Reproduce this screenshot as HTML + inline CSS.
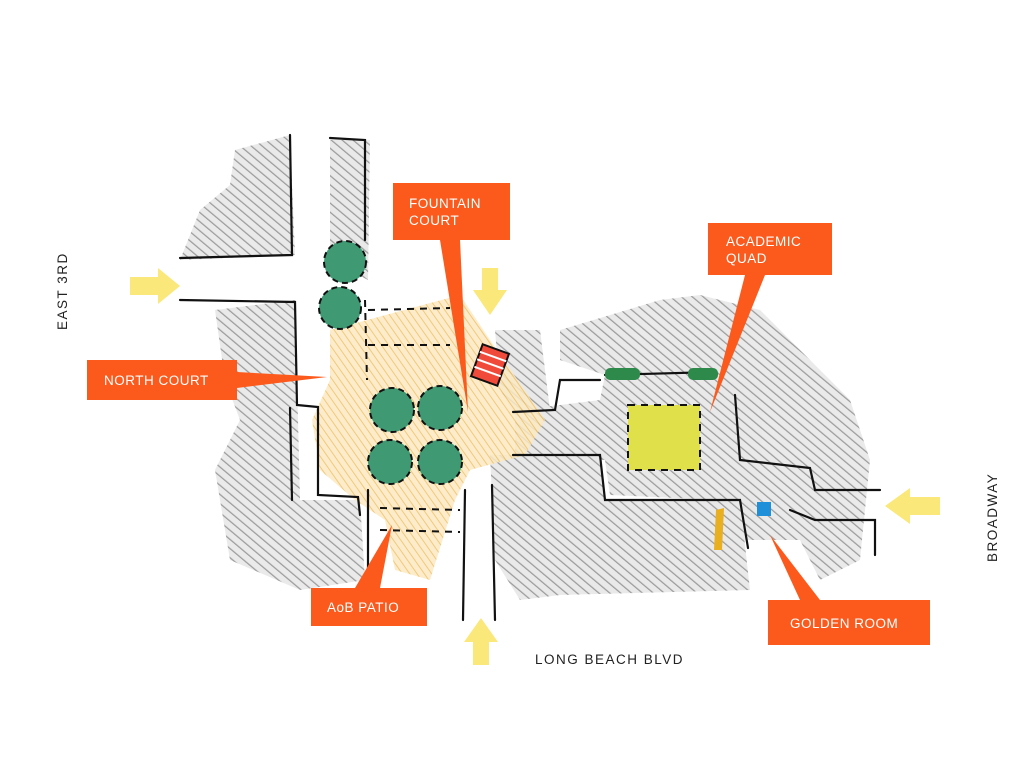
<!DOCTYPE html>
<html><head><meta charset="utf-8"><style>
html,body{margin:0;padding:0;background:#fff;width:1024px;height:778px;overflow:hidden}
svg{display:block}
text{font-family:"Liberation Sans",sans-serif}
</style></head><body>
<svg width="1024" height="778" viewBox="0 0 1024 778" xmlns="http://www.w3.org/2000/svg">
<defs>
<pattern id="hatch" width="7" height="7" patternUnits="userSpaceOnUse" patternTransform="rotate(-50)">
<rect width="7" height="7" fill="#e6e6e6"/><line x1="0" y1="0" x2="0" y2="7" stroke="#8a8a8a" stroke-width="2.5"/>
</pattern>
<pattern id="ylw" width="6" height="6" patternUnits="userSpaceOnUse" patternTransform="rotate(-35)">
<rect width="6" height="6" fill="#fbe9c2"/><line x1="0" y1="0" x2="0" y2="6" stroke="#f0c060" stroke-width="2"/>
</pattern>
</defs>
<!-- gray hatched building masses -->
<g fill="url(#hatch)" opacity="0.85">
<path d="M235 150 L290 135 L295 255 L180 260 L200 210 L230 185Z"/>
<path d="M330 140 L370 140 L368 280 L330 260Z"/>
<path d="M215 310 L295 300 L300 500 L360 500 L365 580 L300 590 L230 560 L215 470 L240 420 L225 380Z"/>
<path d="M490 455 L600 455 L605 500 L740 500 L750 590 L560 595 L520 600 L495 560Z"/>
<path d="M560 330 L660 300 L700 295 L760 310 L850 400 L870 460 L860 560 L820 580 L800 540 L740 540 L720 500 L610 495 L605 460 L515 455 L515 410 L560 405 L600 400 L605 375 L560 360Z"/>
<path d="M495 330 L540 330 L550 410 L515 415 L500 390Z"/>
</g>
<!-- yellow courtyard -->
<path d="M330 330 L460 295 L490 340 L545 420 L525 455 L470 470 L455 500 L430 580 L395 570 L385 520 L355 500 L320 470 L312 420 L330 380Z" fill="url(#ylw)" opacity="0.85"/>
<!-- quad -->
<rect x="628" y="405" width="72" height="65" fill="#dfe04a"/>
<!-- walls -->
<g fill="none" stroke="#111" stroke-width="2.2" stroke-linecap="round">
<path d="M290 135 L292 255 L180 258"/>
<path d="M330 138 L365 140 L365 240"/>
<path d="M180 300 L295 302 L297 405 L318 407 L318 495 L358 497 L360 515"/>
<path d="M290 408 L292 500"/>
<path d="M368 490 L368 590"/>
<path d="M465 490 L463 620"/>
<path d="M492 485 L495 620"/>
<path d="M513 455 L600 455 L605 500 L740 500 L748 548"/>
<path d="M513 412 L555 410 L560 380 L600 380"/>
<path d="M735 395 L740 460 L810 468 L815 490 L880 490"/>
<path d="M790 510 L815 520 L875 520 L875 555"/>
<path d="M605 375 L715 372"/>
</g>
<g fill="none" stroke="#111" stroke-width="2" stroke-dasharray="7 6">
<path d="M368 310 L450 308"/><path d="M368 345 L450 345"/>
<path d="M365 300 L367 380"/>
<path d="M380 508 L460 510"/><path d="M380 530 L460 532"/>
<path d="M628 405 L700 405 L700 470 L628 470Z"/>
</g>
<!-- fountain -->
<g transform="rotate(20 490 365)"><rect x="476" y="348" width="28" height="34" fill="#f04a3a" stroke="#111" stroke-width="2"/>
<g stroke="#fff" stroke-width="2"><line x1="476" y1="356" x2="504" y2="356"/><line x1="476" y1="364" x2="504" y2="364"/><line x1="476" y1="372" x2="504" y2="372"/></g></g>
<!-- green trees -->
<g fill="#3f9a73" stroke="#111" stroke-width="2" stroke-dasharray="6 4">
<circle cx="345" cy="262" r="21"/><circle cx="340" cy="308" r="21"/>
<circle cx="392" cy="410" r="22"/><circle cx="440" cy="408" r="22"/>
<circle cx="390" cy="462" r="22"/><circle cx="440" cy="462" r="22"/>
</g>
<rect x="605" y="368" width="35" height="12" rx="5" fill="#2e8a4a"/>
<rect x="688" y="368" width="30" height="12" rx="5" fill="#2e8a4a"/>
<rect x="757" y="502" width="14" height="14" fill="#1e8fd8"/>
<path d="M716 510 L724 508 L722 550 L714 550Z" fill="#e8b020"/>
<!-- yellow arrows -->
<g fill="#fbe87a">
<path d="M130 277 L158 277 L158 268 L180 286 L158 304 L158 295 L130 295Z"/>
<path d="M482 268 L498 268 L498 290 L507 290 L490 315 L473 290 L482 290Z"/>
<path d="M940 497 L910 497 L910 488 L885 506 L910 524 L910 515 L940 515Z"/>
<path d="M473 665 L489 665 L489 642 L498 642 L481 618 L464 642 L473 642Z"/>
</g>
<!-- orange labels -->
<g fill="#fc5a1c">
<rect x="393" y="183" width="117" height="57"/><path d="M440 240 L460 240 L468 412Z"/>
<rect x="708" y="223" width="124" height="52"/><path d="M745 275 L765 275 L710 412Z"/>
<rect x="87" y="360" width="150" height="40"/><path d="M237 372 L237 388 L327 377Z"/>
<rect x="311" y="588" width="116" height="38"/><path d="M355 588 L380 588 L392 525Z"/>
<rect x="768" y="600" width="162" height="45"/><path d="M800 600 L820 600 L770 535Z"/>
</g>
<g fill="#fff" font-size="13.5" letter-spacing="0.5">
<text x="409" y="208">FOUNTAIN</text><text x="409" y="225">COURT</text>
<text x="726" y="246">ACADEMIC</text><text x="726" y="263">QUAD</text>
<text x="104" y="385">NORTH COURT</text>
<text x="327" y="612">AoB PATIO</text>
<text x="790" y="628">GOLDEN ROOM</text>
</g>
<g fill="#222" font-size="13.5" letter-spacing="1.5">
<text x="535" y="664">LONG BEACH BLVD</text>
<text transform="translate(67 330) rotate(-90)">EAST 3RD</text>
<text transform="translate(997 562) rotate(-90)">BROADWAY</text>
</g>
</svg>
</body></html>
